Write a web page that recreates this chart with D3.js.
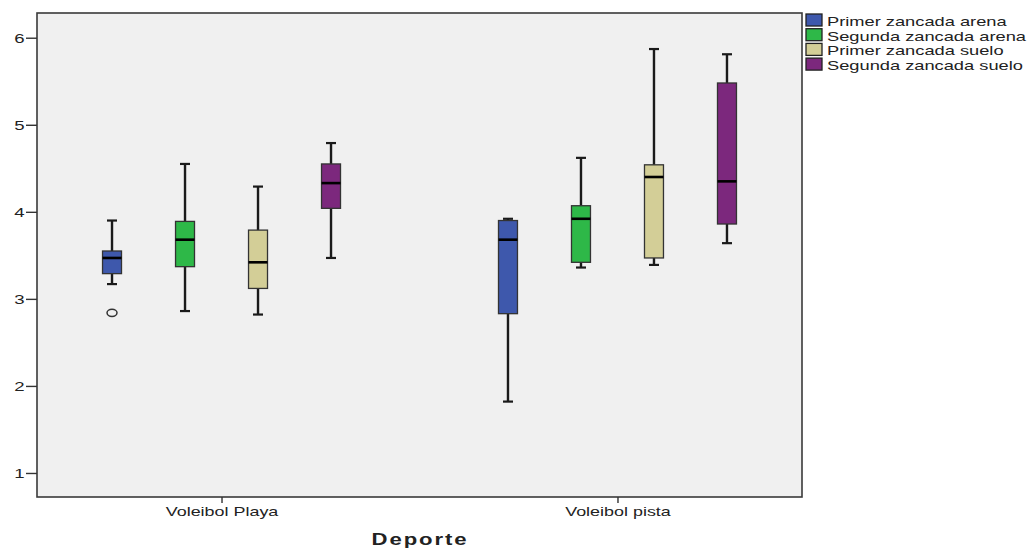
<!DOCTYPE html>
<html><head><meta charset="utf-8">
<script src="https://cdn.jsdelivr.net/npm/d3@7"></script>
<style>
body{margin:0;background:#fff}
svg{display:block}
text{font-family:"Liberation Sans",Arial,Helvetica,sans-serif;fill:#222}
</style>
</head><body>
<svg id="chart" width="1031" height="548"></svg>
<script>
// ---- data ----
const groups = ["Voleibol Playa", "Voleibol pista"];
const series = ["Primer zancada arena", "Segunda zancada arena", "Primer zancada suelo", "Segunda zancada suelo"];
const colors = ["#3e58ac", "#2eb848", "#d3ce97", "#7c287d"];
const yTicks = [1, 2, 3, 4, 5, 6];
const xTitle = "Deporte";
// [lower whisker, Q1, median, Q3, upper whisker], one entry per group
const primerArena   = [[3.17, 3.29, 3.47, 3.55, 3.90], [1.82, 2.83, 3.68, 3.90, 3.92]];
const segundaArena  = [[2.86, 3.37, 3.68, 3.89, 4.55], [3.36, 3.42, 3.92, 4.07, 4.62]];
const primerSuelo   = [[2.82, 3.12, 3.42, 3.79, 4.29], [3.39, 3.47, 4.40, 4.54, 5.87]];
const segundaSuelo  = [[3.47, 4.04, 4.33, 4.55, 4.79], [3.64, 3.86, 4.35, 5.48, 5.81]];
const outlierGroups = ["Voleibol Playa"];
const outlierSeries = ["Primer zancada arena"];
const outlierValues = [2.84];

const seriesStats = [primerArena, segundaArena, primerSuelo, segundaSuelo];
const boxes = [];
series.forEach((s, si) => groups.forEach((g, gi) => {
  const [lo, q1, med, q3, hi] = seriesStats[si][gi];
  boxes.push({group: g, series: s, color: colors[si], lo, q1, med, q3, hi});
}));
const outliers = outlierValues.map((v, i) => ({group: outlierGroups[i], series: outlierSeries[i], value: v}));

// ---- layout ----
const plot = {left: 37, top: 13, right: 802, bottom: 497};
const SX = 1.38; // horizontal stretch of the original's text

const svg = d3.select("#chart");
const y = d3.scaleLinear().domain([0.724, 6.284]).range([plot.bottom, plot.top]);
const x0 = d3.scalePoint().domain(groups).range([plot.left, plot.right]).padding(0.466);
const x1 = d3.scaleBand().domain(series).range([-146, 146]);
const boxW = x1.bandwidth() * 0.26;
const capW = 10;
const cx = d => x0(d.group) + x1(d.series) + x1.bandwidth() / 2;

function stretch(sel, sx) {
  sel.each(function () {
    const t = d3.select(this);
    const x = +t.attr("x") || 0, yy = +t.attr("y") || 0;
    t.attr("transform", `translate(${x},${yy}) scale(${sx},1)`).attr("x", 0).attr("y", 0);
  });
}

// plot frame
svg.append("rect")
  .attr("x", plot.left).attr("y", plot.top)
  .attr("width", plot.right - plot.left).attr("height", plot.bottom - plot.top)
  .attr("fill", "#f0f0f0").attr("stroke", "#3a3a3a").attr("stroke-width", 1.6);

// y axis
const gy = svg.append("g").attr("transform", `translate(${plot.left},0)`)
  .call(d3.axisLeft(y).tickValues(yTicks).tickFormat(d3.format("d")).tickSize(11).tickPadding(1.5));
gy.select(".domain").remove();
gy.selectAll(".tick line").attr("stroke", "#333").attr("stroke-width", 1.4);
gy.selectAll(".tick text").attr("font-size", 13.5).attr("fill", "#333")
  .style("font-family", '"Liberation Sans",Arial,sans-serif');
stretch(gy.selectAll(".tick text"), SX);

// x axis
const gx = svg.append("g").attr("transform", `translate(0,${plot.bottom})`)
  .call(d3.axisBottom(x0).tickSize(6).tickPadding(4));
gx.select(".domain").remove();
gx.selectAll(".tick line").attr("stroke", "#333").attr("stroke-width", 1.4);
gx.selectAll(".tick text").attr("font-size", 13).attr("fill", "#333")
  .style("font-family", '"Liberation Sans",Arial,sans-serif');
stretch(gx.selectAll(".tick text"), SX);

// x title
const tt = svg.append("text").attr("x", 420).attr("y", 545)
  .attr("text-anchor", "middle").attr("font-size", 16).attr("font-weight", "bold")
  .attr("letter-spacing", 1.4).attr("fill", "#111").text(xTitle);
stretch(tt, SX);

// boxes
const bg = svg.append("g");
const b = bg.selectAll("g.box").data(boxes).join("g").attr("class", "box");
// whiskers
b.append("line").attr("x1", cx).attr("x2", cx).attr("y1", d => y(d.q3)).attr("y2", d => y(d.hi))
  .attr("stroke", "#1a1a1a").attr("stroke-width", 2.4);
b.append("line").attr("x1", cx).attr("x2", cx).attr("y1", d => y(d.q1)).attr("y2", d => y(d.lo))
  .attr("stroke", "#1a1a1a").attr("stroke-width", 2.4);
// caps
b.append("line").attr("x1", d => cx(d) - capW / 2).attr("x2", d => cx(d) + capW / 2)
  .attr("y1", d => y(d.hi)).attr("y2", d => y(d.hi)).attr("stroke", "#1a1a1a").attr("stroke-width", 2.2);
b.append("line").attr("x1", d => cx(d) - capW / 2).attr("x2", d => cx(d) + capW / 2)
  .attr("y1", d => y(d.lo)).attr("y2", d => y(d.lo)).attr("stroke", "#1a1a1a").attr("stroke-width", 2.2);
// box
b.append("rect").attr("x", d => cx(d) - boxW / 2).attr("width", boxW)
  .attr("y", d => y(d.q3)).attr("height", d => y(d.q1) - y(d.q3))
  .attr("fill", d => d.color).attr("stroke", "#333").attr("stroke-width", 1.3);
// median
b.append("line").attr("x1", d => cx(d) - boxW / 2).attr("x2", d => cx(d) + boxW / 2)
  .attr("y1", d => y(d.med)).attr("y2", d => y(d.med)).attr("stroke", "#000").attr("stroke-width", 2.6);

// outliers
svg.append("g").selectAll("ellipse").data(outliers).join("ellipse")
  .attr("cx", cx).attr("cy", d => y(d.value)).attr("rx", 5).attr("ry", 3.6)
  .attr("fill", "none").attr("stroke", "#333").attr("stroke-width", 1.5);

// legend
const lg = svg.append("g");
const li = lg.selectAll("g").data(series).join("g")
  .attr("transform", (d, i) => `translate(806,${14 + i * 14.7})`);
li.append("rect").attr("width", 16).attr("height", 12)
  .attr("fill", (d, i) => colors[i]).attr("stroke", "#222").attr("stroke-width", 1.3);
const lt = li.append("text").attr("x", 21).attr("y", 12).attr("font-size", 13).attr("fill", "#111").text(d => d);
stretch(lt, 1.405);
</script>
</body></html>
